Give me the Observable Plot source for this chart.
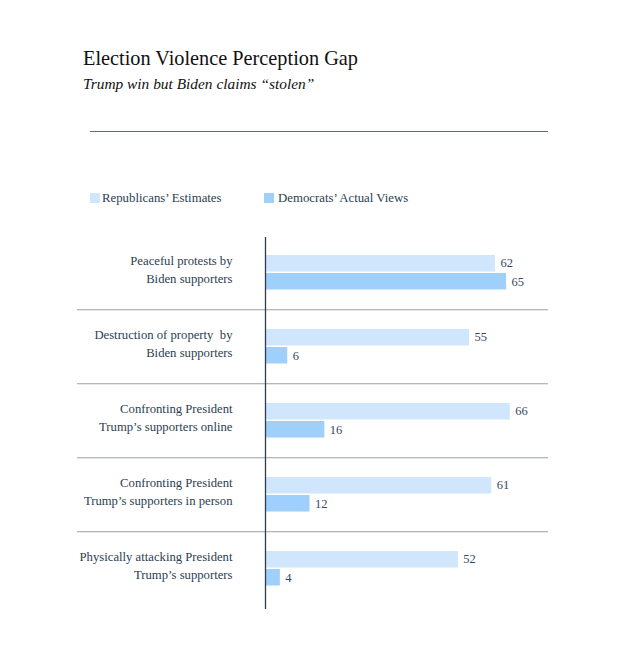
<!DOCTYPE html>
<html>
<head>
<meta charset="utf-8">
<script src="https://cdn.jsdelivr.net/npm/d3@7"></script>
<script src="https://cdn.jsdelivr.net/npm/@observablehq/plot@0.6"></script>
<style>
  html, body { margin: 0; padding: 0; background: #fff; }
  #wrap { position: relative; width: 634px; height: 658px; font-family: "Liberation Serif", "Times New Roman", serif; color: #2c3e50; }
  #wrap svg { position: absolute; left: 0; top: 0; }
  .abs { position: absolute; white-space: nowrap; line-height: 1; }
  .title { left: 83px; top: 47.5px; font-size: 20.3px; color: #111; }
  .subtitle { left: 83px; top: 76px; font-size: 15.4px; font-style: italic; color: #111; }
  .hr { left: 90px; top: 130.5px; width: 458px; height: 1.5px; background: #5b6b78; }
  .sw { width: 10px; height: 10px; }
  .leg { font-size: 12.8px; color: #2c3e50; }
</style>
</head>
<body>
<div id="wrap"></div>
<script>
const categories = [
  "Peaceful protests by\nBiden supporters",
  "Destruction of property  by\nBiden supporters",
  "Confronting President\nTrump’s supporters online",
  "Confronting President\nTrump’s supporters in person",
  "Physically attacking President\nTrump’s supporters"
];
const republicansEstimates = [62, 55, 66, 61, 52];
const democratsActual = [65, 6, 16, 12, 4];
const seriesNames = ["Republicans’ Estimates", "Democrats’ Actual Views"];
const seriesColors = ["#d0e6fd", "#9fcffb"];

const rep = categories.map((c, i) => ({category: c, value: republicansEstimates[i]}));
const dem = categories.map((c, i) => ({category: c, value: democratsActual[i]}));

const textColor = "#2c3e50";
const valueColor = "#34495e";

const plot = Plot.plot({
  width: 634,
  height: 658,
  marginTop: 233.5,
  marginBottom: 52,
  marginLeft: 265,
  marginRight: 86,
  style: {background: "transparent", fontFamily: "\"Liberation Serif\", \"Times New Roman\", serif", fontSize: "12px"},
  x: {domain: [0, 76.3], axis: null},
  y: {type: "band", domain: categories, padding: 0, axis: null},
  marks: [
    Plot.barX(rep, {x: "value", y: "category", fill: seriesColors[0], insetTop: 20, insetBottom: 37.5}),
    Plot.barX(dem, {x: "value", y: "category", fill: seriesColors[1], insetTop: 38, insetBottom: 19.5}),
    Plot.ruleY(categories.slice(0, -1), {y: d => d, dy: 37.25, stroke: "#9aa0a6", strokeWidth: 1, insetLeft: -188}),
    Plot.ruleX([0], {stroke: "#2c3e50", strokeWidth: 1.3, insetTop: 3.5, insetBottom: -3}),
    Plot.text(categories, {x: 0, y: d => d, text: d => d, textAnchor: "end", dx: -33, dy: -4.5, lineHeight: 1.42, fontSize: 12.7, fill: textColor, style: {whiteSpace: "pre"}}),
    Plot.text(rep, {x: "value", y: "category", text: d => String(d.value), textAnchor: "start", dx: 5, dy: -10, fontSize: 12.5, fill: valueColor}),
    Plot.text(dem, {x: "value", y: "category", text: d => String(d.value), textAnchor: "start", dx: 5, dy: 9.5, fontSize: 12.5, fill: valueColor})
  ]
});

const wrap = document.getElementById("wrap");
wrap.appendChild(plot);

function add(cls, text, style) {
  const el = document.createElement("div");
  el.className = "abs " + cls;
  if (text) el.textContent = text;
  if (style) Object.assign(el.style, style);
  wrap.appendChild(el);
  return el;
}
add("title", "Election Violence Perception Gap");
add("subtitle", "Trump win but Biden claims “stolen”");
add("hr", "");
add("sw", "", {left: "90px", top: "193px", background: seriesColors[0]});
add("leg", seriesNames[0], {left: "102px", top: "191.5px"});
add("sw", "", {left: "264px", top: "193px", background: seriesColors[1]});
add("leg", seriesNames[1], {left: "278px", top: "191.5px"});
</script>
</body>
</html>
